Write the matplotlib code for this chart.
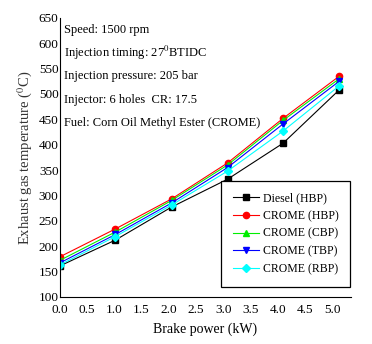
import matplotlib.pyplot as plt

plt.rcParams['font.family'] = ['Liberation Serif', 'DejaVu Serif']
plt.rcParams['mathtext.fontset'] = 'stix'

# brake power (kW) and exhaust gas temperature (deg C)
power = [0.0, 1.02, 2.05, 3.08, 4.1, 5.13]
diesel_hbp = [161, 212, 277, 332, 403, 508]
crome_hbp = [179, 234, 293, 364, 452, 535]
crome_cbp = [172, 228, 290, 360, 448, 530]
crome_tbp = [167, 223, 285, 355, 441, 525]
crome_rbp = [163, 219, 281, 348, 427, 516]

series = [
    ("Diesel (HBP)", diesel_hbp, 'black', 's'),
    ("CROME (HBP)", crome_hbp, 'red', 'o'),
    ("CROME (CBP)", crome_cbp, '#00ee00', '^'),
    ("CROME (TBP)", crome_tbp, 'blue', 'v'),
    ("CROME (RBP)", crome_rbp, 'cyan', 'D'),
]

fig = plt.figure(figsize=(3.72, 3.44), dpi=100)
ax = fig.add_axes([0.161, 0.137, 0.783, 0.811])

for label, vals, col, mk in series:
    ax.plot(power, vals, color=col, marker=mk, markersize=4.5 if mk != 'D' else 4,
            linewidth=0.8, label=label)

ax.set_xlim(0, 5.35)
ax.set_ylim(100, 650)
ax.set_xticks([0.0, 0.5, 1.0, 1.5, 2.0, 2.5, 3.0, 3.5, 4.0, 4.5, 5.0])
ax.set_yticks(range(100, 651, 50))
ax.tick_params(direction='in', length=0, labelsize=9.5)
ax.tick_params(axis='y', pad=1)
ax.tick_params(axis='x', pad=5)
ax.spines['top'].set_visible(False)
ax.spines['right'].set_visible(False)
ax.set_xlabel("Brake power (kW)", fontsize=10, labelpad=5)
ax.set_ylabel("Exhaust gas temperature ($^0$C)", fontsize=10.5, labelpad=3, color='#333333')

notes = [
    "Speed: 1500 rpm",
    "Injection timing: 27$^0$BTIDC",
    "Injection pressure: 205 bar",
    "Injector: 6 holes  CR: 17.5",
    "Fuel: Corn Oil Methyl Ester (CROME)",
]
for i, t in enumerate(notes):
    ax.text(0.013, 0.957 - i * 0.0835, t, transform=ax.transAxes, fontsize=9,
            va='center', ha='left')

leg = ax.legend(loc='lower right', bbox_to_anchor=(0.997, 0.036), fontsize=8.5,
                borderaxespad=0, fancybox=False, edgecolor='black', framealpha=1,
                handlelength=2.2, handletextpad=0.35, borderpad=1.0,
                labelspacing=0.48)
leg.get_frame().set_linewidth(0.9)

fig.savefig("out.png", dpi=100)
